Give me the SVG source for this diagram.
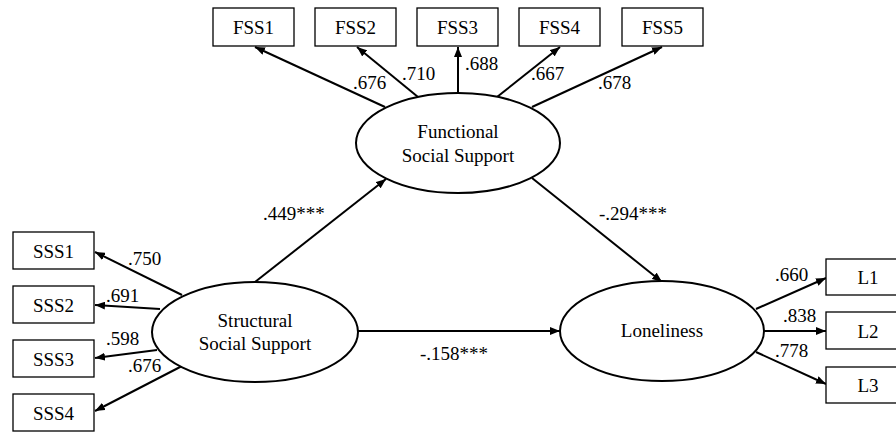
<svg xmlns="http://www.w3.org/2000/svg" width="896" height="432" viewBox="0 0 896 432">
<style>
text{font-family:"Liberation Serif","Times New Roman",serif;font-size:19px;fill:#000}
.c{text-anchor:middle}
.box{fill:#fff;stroke:#000;stroke-width:1.3}
.ell{fill:#fff;stroke:#000;stroke-width:2}
.ln{stroke:#000;stroke-width:2;fill:none;marker-end:url(#ah)}
</style>
<defs>
<marker id="ah" markerUnits="userSpaceOnUse" markerWidth="10" markerHeight="8" refX="10" refY="4" orient="auto">
<path d="M0,0 L10,4 L0,8 Z" fill="#000"/>
</marker>
</defs>
<rect width="896" height="432" fill="#fff"/>
<g id="connectors">
<line class="ln" x1="385" y1="107" x2="255" y2="47"/>
<line class="ln" x1="418" y1="97" x2="357" y2="47"/>
<line class="ln" x1="458" y1="93" x2="458" y2="47"/>
<line class="ln" x1="497" y1="97" x2="560" y2="47"/>
<line class="ln" x1="532" y1="107" x2="662" y2="47"/>
<line class="ln" x1="182" y1="295" x2="95" y2="252"/>
<line class="ln" x1="160" y1="309" x2="95" y2="305"/>
<line class="ln" x1="157" y1="350" x2="95" y2="358"/>
<line class="ln" x1="182" y1="366" x2="95" y2="411"/>
<line class="ln" x1="756" y1="309" x2="826" y2="278"/>
<line class="ln" x1="764" y1="331" x2="826" y2="331"/>
<line class="ln" x1="756" y1="352" x2="826" y2="384"/>
<line class="ln" x1="255" y1="282" x2="386" y2="179"/>
<line class="ln" x1="532" y1="178" x2="662" y2="282"/>
<line class="ln" x1="358" y1="331" x2="560" y2="331"/>
<text x="353" y="89">.676</text>
<text x="402" y="80">.710</text>
<text x="465" y="70">.688</text>
<text x="531" y="80">.667</text>
<text x="598" y="89">.678</text>
<text x="128" y="265">.750</text>
<text x="106" y="302">.691</text>
<text x="106" y="345">.598</text>
<text x="128" y="372">.676</text>
<text x="775" y="281">.660</text>
<text x="783" y="322">.838</text>
<text x="775" y="357">.778</text>
<text x="263" y="220">.449***</text>
<text x="599" y="220">-.294***</text>
<text x="420" y="360">-.158***</text>
</g>
<g id="FSS1"><rect class="box" x="213" y="8" width="81" height="38"/><text class="c" x="253.5" y="34">FSS1</text></g>
<g id="FSS2"><rect class="box" x="315" y="8" width="81" height="38"/><text class="c" x="355.5" y="34">FSS2</text></g>
<g id="FSS3"><rect class="box" x="417" y="8" width="81" height="38"/><text class="c" x="457.5" y="34">FSS3</text></g>
<g id="FSS4"><rect class="box" x="519" y="8" width="81" height="38"/><text class="c" x="559.5" y="34">FSS4</text></g>
<g id="FSS5"><rect class="box" x="622" y="8" width="81" height="38"/><text class="c" x="662.5" y="34">FSS5</text></g>
<g id="SSS1"><rect class="box" x="13" y="232" width="81" height="37"/><text class="c" x="53.5" y="258">SSS1</text></g>
<g id="SSS2"><rect class="box" x="13" y="286" width="81" height="37"/><text class="c" x="53.5" y="312">SSS2</text></g>
<g id="SSS3"><rect class="box" x="13" y="340" width="81" height="37"/><text class="c" x="53.5" y="366">SSS3</text></g>
<g id="SSS4"><rect class="box" x="13" y="394" width="81" height="37"/><text class="c" x="53.5" y="420">SSS4</text></g>
<g id="L1"><rect class="box" x="826" y="259" width="82" height="36"/><text class="c" x="868" y="284">L1</text></g>
<g id="L2"><rect class="box" x="826" y="312" width="82" height="37"/><text class="c" x="868" y="338">L2</text></g>
<g id="L3"><rect class="box" x="826" y="367" width="82" height="36"/><text class="c" x="868" y="392">L3</text></g>
<g id="FSS"><ellipse class="ell" cx="458" cy="143" rx="102" ry="50"/><text class="c" x="458" y="138">Functional</text><text class="c" x="458" y="162">Social Support</text></g>
<g id="SSS"><ellipse class="ell" cx="255" cy="332" rx="103" ry="50"/><text class="c" x="255" y="327">Structural</text><text class="c" x="255" y="350">Social Support</text></g>
<g id="Lon"><ellipse class="ell" cx="662" cy="331" rx="102" ry="50"/><text class="c" x="662" y="337">Loneliness</text></g>
</svg>
